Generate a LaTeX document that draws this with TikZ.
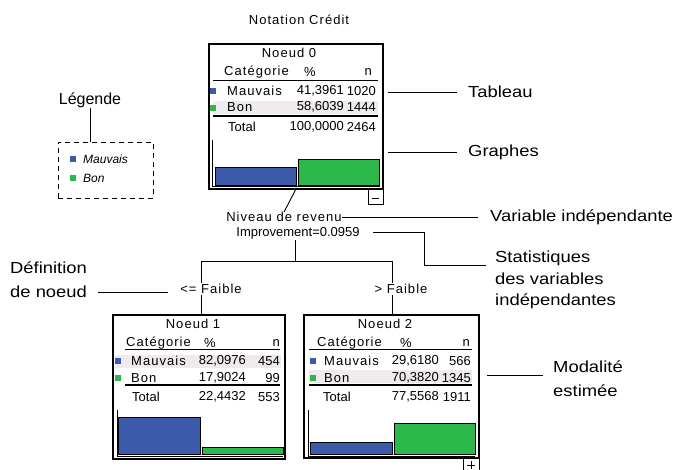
\documentclass[tikz,border=0pt]{standalone}
\usepackage{fontspec}
\setmainfont{Liberation Sans}
\newfontfamily\spc[LetterSpace=8]{Liberation Sans}
\newfontfamily\wide[FakeStretch=1.15]{Liberation Sans}
\definecolor{bblue}{HTML}{3B5BAA}
\definecolor{bgreen}{HTML}{2DB84B}
\definecolor{hl}{HTML}{EEEAEE}
\begin{document}
\begin{tikzpicture}[x=1pt,y=-1pt,
  lbl/.style={font=\fontsize{16}{19}\selectfont\wide, inner sep=0, align=left},
  tx/.style={font=\fontsize{13}{15}\selectfont, inner sep=0},
  stx/.style={font=\fontsize{13}{15}\selectfont\spc, inner sep=0},
  nbox/.style={draw, line width=1.2pt, anchor=north west, inner sep=0, outer sep=0},
  ln/.style={line width=0.9pt},
  rule/.style={line width=0.8pt},
  drule/.style={line width=1.6pt},
  sq/.style={inner sep=0, minimum size=5.5pt},
  bar/.style={draw, line width=0.9pt}]
\useasboundingbox (0,0) rectangle (675,469);

% title
\node[stx] (title) at (299,20) {Notation Crédit};

% ---------- Node 0 ----------
\node[nbox, minimum width=174pt, minimum height=145pt] (n0) at (209,44) {};
\fill[hl] (213,101) rectangle (378,114);
\node[stx] (h0) at (289,53) {Noeud 0};
\node[stx, anchor=west] (c0) at (224,72) {Catégorie};
\node[tx] (p0) at (310,72) {\%};
\node[tx, anchor=east] (k0) at (372,72) {n};
\draw[rule] (213,80) -- (378,80);
\node[sq, fill=bblue] (s0a) at (213,91) {};
\node[stx, anchor=west] (m0) at (227,91) {Mauvais};
\node[tx, anchor=east] (m0p) at (344,91) {41,3961};
\node[tx, anchor=east] (m0n) at (376,91) {1020};
\node[sq, fill=bgreen] (s0b) at (213,108) {};
\node[stx, anchor=west] (b0) at (227,107) {Bon};
\node[tx, anchor=east] (b0p) at (344,107) {58,6039};
\node[tx, anchor=east] (b0n) at (376,107) {1444};
\draw[drule] (213,116) -- (378,116);
\node[tx, anchor=west] (t0) at (228,127) {Total};
\node[tx, anchor=east] (t0p) at (344,127) {100,0000};
\node[tx, anchor=east] (t0n) at (376,127) {2464};
\draw[ln] (212,140) -- (212,186.5) -- (380,186.5);
\draw[bar, fill=bblue] (215,167) rectangle (296,185);
\draw[bar, fill=bgreen] (298,159) rectangle (379,185);
\node[nbox, line width=0.9pt, minimum width=15pt, minimum height=15pt] (minus) at (368,189) {};
\draw[ln] (371.5,198) -- (379,198);

% ---------- tree ----------
\node[stx] (nv) at (284,217) {Niveau de revenu};
\node[tx] (imp) at (298,233) {Improvement=0.0959};
\draw[ln] (n0.south) -- (nv.north);
\coordinate (j) at (295,261);
\coordinate (jl) at (201,261);
\coordinate (jr) at (392,261);
\draw[ln] (295,240) -- (j);
\draw[ln] (jl) -- (jr);

% ---------- Node 1 ----------
\node[nbox, minimum width=172pt, minimum height=144pt] (n1) at (113,315) {};
\draw[ln] (jl) -- (n1.north -| jl);
\node[stx, fill=white, inner sep=1pt] (f1) at (211,289) {<= Faible};
\fill[hl] (115,355) rectangle (281,368);
\node[stx] (h1) at (193,324) {Noeud 1};
\node[stx, anchor=west] (c1) at (126,343) {Catégorie};
\node[tx] (p1) at (210,343) {\%};
\node[tx, anchor=east] (k1) at (280,343) {n};
\draw[rule] (125,349) -- (280,349);
\node[sq, fill=bblue] (s1a) at (118,361) {};
\node[stx, anchor=west] (m1) at (131,361) {Mauvais};
\node[tx, anchor=east] (m1p) at (246,361) {82,0976};
\node[tx, anchor=east] (m1n) at (280,361) {454};
\node[sq, fill=bgreen] (s1b) at (118,378) {};
\node[stx, anchor=west] (b1) at (131,378) {Bon};
\node[tx, anchor=east] (b1p) at (246,378) {17,9024};
\node[tx, anchor=east] (b1n) at (280,378) {99};
\draw[drule] (125,385) -- (280,385);
\node[tx, anchor=west] (t1) at (132,397) {Total};
\node[tx, anchor=east] (t1p) at (246,397) {22,4432};
\node[tx, anchor=east] (t1n) at (280,397) {553};
\draw[ln] (117,410) -- (117,456.5) -- (283,456.5);
\draw[bar, fill=bblue] (118,417) rectangle (200,454);
\draw[bar, fill=bgreen] (202,447) rectangle (283,454);

% ---------- Node 2 ----------
\node[nbox, minimum width=175pt, minimum height=143pt] (n2) at (304,315) {};
\draw[ln] (jr) -- (n2.north -| jr);
\node[stx, fill=white, inner sep=1pt] (f2) at (401,289) {> Faible};
\fill[hl] (309,370) rectangle (472,383);
\node[stx] (h2) at (385,324) {Noeud 2};
\node[stx, anchor=west] (c2) at (317,343) {Catégorie};
\node[tx] (p2) at (406,343) {\%};
\node[tx, anchor=east] (k2) at (470,343) {n};
\draw[rule] (309,349) -- (472,349);
\node[sq, fill=bblue] (s2a) at (313,361) {};
\node[stx, anchor=west] (m2) at (324,361) {Mauvais};
\node[tx, anchor=east] (m2p) at (439,361) {29,6180};
\node[tx, anchor=east] (m2n) at (471,361) {566};
\node[sq, fill=bgreen] (s2b) at (313,378) {};
\node[stx, anchor=west] (b2) at (324,378) {Bon};
\node[tx, anchor=east] (b2p) at (439,378) {70,3820};
\node[tx, anchor=east] (b2n) at (471,378) {1345};
\draw[drule] (309,385) -- (472,385);
\node[tx, anchor=west] (t2) at (323,397) {Total};
\node[tx, anchor=east] (t2p) at (439,397) {77,5568};
\node[tx, anchor=east] (t2n) at (471,397) {1911};
\draw[ln] (308,410) -- (308,456) -- (475,456);
\draw[bar, fill=bblue] (310,442) rectangle (392,454);
\draw[bar, fill=bgreen] (394,423) rectangle (475,454);
\node[nbox, line width=0.9pt, minimum width=16pt, minimum height=14pt] (plus) at (463,458) {};
\draw[ln] (467,465) -- (475,465) (471,461) -- (471,469);

% ---------- annotations ----------
\node[lbl, anchor=west] (tab) at (468,92) {Tableau};
\node[lbl, anchor=west] (gra) at (468,152) {Graphes};
\node[lbl, anchor=west] (var) at (490,217) {Variable indépendante};
\node[lbl, anchor=north west, align=left, font=\fontsize{16}{21.5}\selectfont\wide] (sta) at (495,251) {Statistiques\\des variables\\indépendantes};
\node[lbl, anchor=north west, align=left, font=\fontsize{16}{24}\selectfont\wide] (def) at (10,262) {Définition\\de noeud};
\node[lbl, anchor=north west, align=left, font=\fontsize{16}{24}\selectfont\wide] (mod) at (553,361) {Modalité\\estimée};
\coordinate (tabL) at (388,92);
\coordinate (graL) at (388,152);
\draw[ln] (tabL) -- (tab.west -| 457,0);
\draw[ln] (graL) -- (gra.west -| 457,0);
\draw[ln] (nv.east) -- (var.west -| 478,0);
\draw[ln] (373,232) -- (424,232) -- (424,265) -- (486,265);
\draw[ln] (98,292) -- (168,292);
\draw[ln] (487,375) -- (543,375);

% ---------- legend ----------
\node[lbl, font=\fontsize{16}{19}\selectfont] (leg) at (90,100) {Légende};
\node[draw, dashed, line width=0.9pt, dash pattern=on 5pt off 4pt, anchor=north west, minimum width=95pt, minimum height=56pt, inner sep=0] (lbox) at (58,142) {};
\draw[ln] (leg.south) -- (lbox.north -| leg.south);
\node[sq, fill=bblue] (ls1) at (73,159) {};
\node[tx, anchor=west, font=\fontsize{12}{14}\selectfont\itshape] (lm) at (83,159) {Mauvais};
\node[sq, fill=bgreen] (ls2) at (73,178) {};
\node[tx, anchor=west, font=\fontsize{12}{14}\selectfont\itshape] (lb) at (83,178) {Bon};
\end{tikzpicture}
\end{document}
